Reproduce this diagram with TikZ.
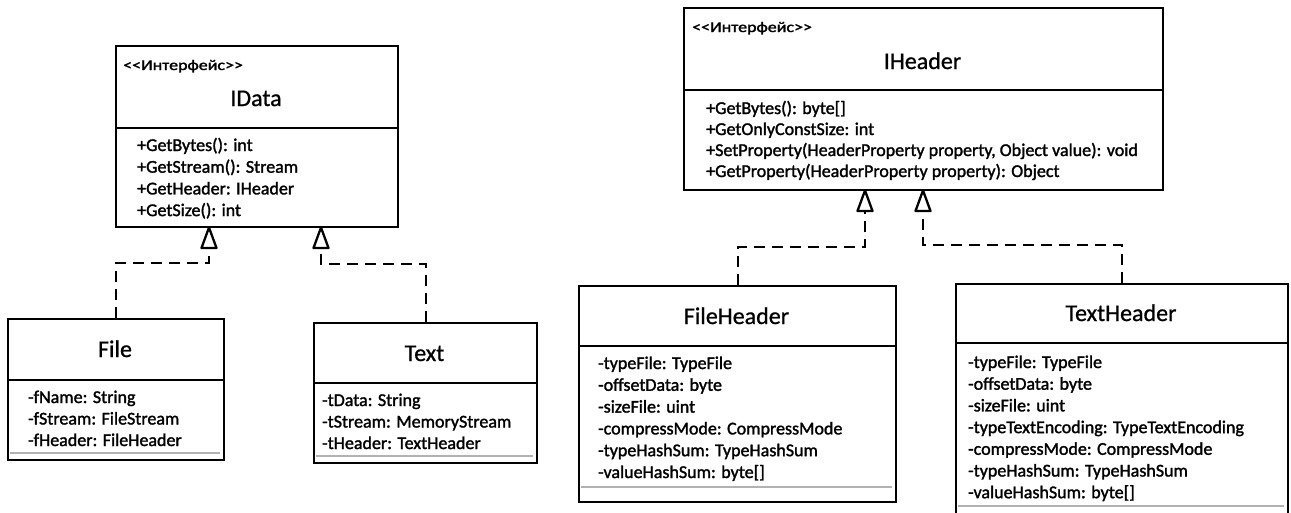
\documentclass[tikz,border=0pt]{standalone}
\usepackage{fontspec}
\usepackage{graphicx}
\setmainfont{Carlito}
\newfontfamily\rowfont[FakeBold=1.6]{Carlito}
\newfontfamily\titlefont[FakeBold=0.8]{Carlito}
\newcommand{\stereotext}{\scalebox{1.2}[1]{<{}<Интерфейс>{}>}}
\begin{document}
\begin{tikzpicture}[x=1pt,y=-1pt,
  box/.style={draw, line width=2.4pt, inner sep=0pt, anchor=north west},
  sepline/.style={line width=2.4pt},
  endline/.style={draw=gray!60, line width=1.4pt},
  title/.style={inner sep=0pt, anchor=base, font=\titlefont\fontsize{24}{28}\selectfont},
  stereo/.style={inner sep=0pt, anchor=base west, font=\rowfont\fontsize{15}{18}\selectfont},
  row/.style={inner sep=0pt, anchor=base west, font=\rowfont\fontsize{18}{21}\selectfont},
  impl/.style={line width=2.4pt, dash pattern=on 11pt off 7pt},
  opentip/.style={draw, fill=white, line width=2.3pt, line join=round}]
\useasboundingbox (0,0) rectangle (1291,512);
% ---------- IData ----------
\node[box, minimum width=282pt, minimum height=181pt] (idata) at (115,45) {};
\draw[sepline] (115,128) -- (397,128);
\node[stereo] (idataS) at (123,70) {\stereotext};
\node[title] (idataT) at (256,106) {IData};
\foreach \t [count=\i] in {+GetBytes(): int, +GetStream(): Stream, +GetHeader: IHeader, +GetSize(): int}
  \node[row] (idataR\i) at (137,{145+21.7*(\i-1)+6}) {\t};
% ---------- File ----------
\node[box, minimum width=216pt, minimum height=141pt] (file) at (7,318) {};
\draw[sepline] (7,380) -- (223,380);
\node[title] (fileT) at (115,357) {File};
\foreach \t [count=\i] in {-fName: String, -fStream: FileStream, -fHeader: FileHeader}
  \node[row] (fileR\i) at (28,{397+21.5*(\i-1)+6}) {\t};
\draw[endline] (10,453) -- (220,453);
% ---------- Text ----------
\node[box, minimum width=223pt, minimum height=140pt] (text) at (313,322) {};
\draw[sepline] (313,383) -- (536,383);
\node[title] (textT) at (424.5,361) {Text};
\foreach \t [count=\i] in {-tData: String, -tStream: MemoryStream, -tHeader: TextHeader}
  \node[row] (textR\i) at (322,{400+21.5*(\i-1)+6}) {\t};
\draw[endline] (316,456) -- (533,456);
% ---------- IHeader ----------
\node[box, minimum width=479pt, minimum height=182pt] (ih) at (683,7) {};
\draw[sepline] (683,90) -- (1162,90);
\node[stereo] (ihS) at (692,32) {\stereotext};
\node[title] (ihT) at (922.5,69) {IHeader};
\foreach \t [count=\i] in {+GetBytes(): byte[], +GetOnlyConstSize: int, {+SetProperty(HeaderProperty property, Object value): void}, +GetProperty(HeaderProperty property): Object}
  \node[row] (ihR\i) at (706,{108+21*(\i-1)+6}) {\t};
% ---------- FileHeader ----------
\node[box, minimum width=317pt, minimum height=216pt] (fh) at (578,285) {};
\draw[sepline] (578,346) -- (895,346);
\node[title] (fhT) at (736.5,324) {FileHeader};
\foreach \t [count=\i] in {-typeFile: TypeFile, -offsetData: byte, -sizeFile: uint, -compressMode: CompressMode, -typeHashSum: TypeHashSum, {-valueHashSum: byte[]}}
  \node[row] (fhR\i) at (598,{363+21.8*(\i-1)+6}) {\t};
\draw[endline] (581,487) -- (892,487);
% ---------- TextHeader ----------
\node[box, minimum width=332pt, minimum height=240pt] (th) at (955,283) {};
\draw[sepline] (955,343) -- (1287,343);
\node[title] (thT) at (1121,321) {TextHeader};
\foreach \t [count=\i] in {-typeFile: TypeFile, -offsetData: byte, -sizeFile: uint, -typeTextEncoding: TypeTextEncoding, -compressMode: CompressMode, -typeHashSum: TypeHashSum, {-valueHashSum: byte[]}}
  \node[row] (thR\i) at (968,{362+21.7*(\i-1)+6}) {\t};
\draw[endline] (958,506) -- (1284,506);
% ---------- connectors (realization) ----------
\coordinate (idA) at (209,227.5);
\coordinate (idB) at (321,227.5);
\coordinate (ihA) at (865,190.5);
\coordinate (ihB) at (923,190.5);
\coordinate (idAb) at (209,248);
\coordinate (idBb) at (321,248);
\coordinate (ihAb) at (865,211);
\coordinate (ihBb) at (923,211);
\draw[impl] (file.north) -- ++(0,-55) -| (idAb);
\draw[impl] (text.north) -- ++(0,-58) -| (idBb);
\draw[impl] (fh.north) -- ++(0,-38) -| (ihAb);
\draw[impl] (th.north) -- ++(0,-38) -| (ihBb);
\foreach \c in {idA, idB, ihA, ihB}
  \draw[opentip] (\c) -- ++(7.5,20.5) -- ++(-15,0) -- cycle;
\end{tikzpicture}
\end{document}
